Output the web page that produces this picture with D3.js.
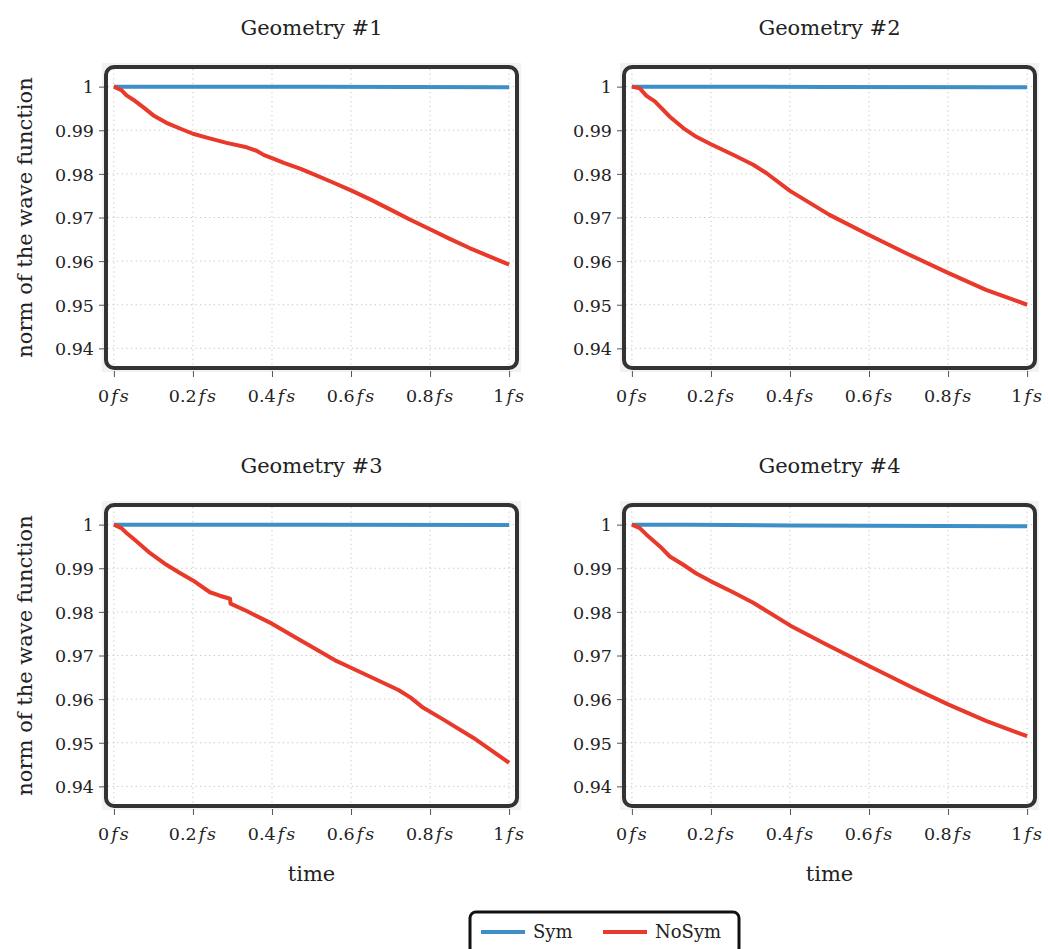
<!DOCTYPE html>
<html>
<head>
<meta charset="utf-8">
<script src="https://cdn.jsdelivr.net/npm/d3@7"></script>
<style>
  body { margin: 0; background: #fff; }
  svg { display: block; font-family: "DejaVu Serif", serif; }
</style>
</head>
<body>
<svg id="chart" width="1048" height="949"></svg>
<script>
// time axis, fs
const xTicks = [0, 0.2, 0.4, 0.6, 0.8, 1];
const yTicks = [0.94, 0.95, 0.96, 0.97, 0.98, 0.99, 1];
const titles = ["Geometry #1", "Geometry #2", "Geometry #3", "Geometry #4"];
const seriesNames = ["Sym", "NoSym"];

const geo1Time = [0, 0.019, 0.032, 0.049, 0.074, 0.1, 0.133, 0.167, 0.2, 0.235, 0.285, 0.336, 0.361, 0.38, 0.4, 0.43, 0.471, 0.5, 0.55, 0.6, 0.65, 0.7, 0.75, 0.8, 0.85, 0.9, 0.95, 1];
const geo1NoSym = [1, 0.9992, 0.998, 0.997, 0.9953, 0.9934, 0.9917, 0.9904, 0.9892, 0.9883, 0.9871, 0.9861, 0.9853, 0.9843, 0.9836, 0.9825, 0.9812, 0.9801, 0.9782, 0.9762, 0.9741, 0.9718, 0.9695, 0.9673, 0.9651, 0.963, 0.9611, 0.9592];
const geo1SymTime = [0, 0.5, 1];
const geo1Sym = [1, 0.99995, 0.99985];

const geo2Time = [0, 0.02, 0.037, 0.058, 0.071, 0.096, 0.13, 0.163, 0.2, 0.256, 0.307, 0.34, 0.4, 0.5, 0.6, 0.694, 0.8, 0.896, 1];
const geo2NoSym = [1, 0.9996, 0.9979, 0.9966, 0.9954, 0.9931, 0.9905, 0.9885, 0.9868, 0.9844, 0.9821, 0.9802, 0.9761, 0.9706, 0.966, 0.9618, 0.9573, 0.9534, 0.95];
const geo2SymTime = [0, 0.5, 1];
const geo2Sym = [1, 0.99993, 0.99985];

const geo3Time = [0, 0.019, 0.032, 0.057, 0.091, 0.133, 0.167, 0.2, 0.243, 0.268, 0.294, 0.295, 0.336, 0.4, 0.462, 0.505, 0.564, 0.6, 0.673, 0.72, 0.75, 0.783, 0.834, 0.91, 1];
const geo3NoSym = [1, 0.9992, 0.9981, 0.9962, 0.9935, 0.9908, 0.9889, 0.9872, 0.9845, 0.9837, 0.983, 0.9819, 0.9802, 0.9773, 0.974, 0.9718, 0.9687, 0.9672, 0.9641, 0.9621, 0.9604, 0.958, 0.9553, 0.9511, 0.9454];
const geo3SymTime = [0, 0.5, 1];
const geo3Sym = [1, 0.99996, 0.9999];

const geo4Time = [0, 0.02, 0.037, 0.071, 0.096, 0.13, 0.163, 0.2, 0.256, 0.307, 0.4, 0.492, 0.6, 0.711, 0.8, 0.896, 1];
const geo4NoSym = [1, 0.9992, 0.9977, 0.995, 0.9927, 0.9908, 0.9888, 0.987, 0.9845, 0.9821, 0.9769, 0.9725, 0.9676, 0.9626, 0.9588, 0.955, 0.9515];
const geo4SymTime = [0, 0.15, 0.4, 1];
const geo4Sym = [1, 0.99995, 0.9998, 0.99962];

const colors = { Sym: "#3d8fc8", NoSym: "#e9392a" };

const panels = [
    { col: 0, row: 0, symT: geo1SymTime, sym: geo1Sym, t: geo1Time, noSym: geo1NoSym },
    { col: 1, row: 0, symT: geo2SymTime, sym: geo2Sym, t: geo2Time, noSym: geo2NoSym },
    { col: 0, row: 1, symT: geo3SymTime, sym: geo3Sym, t: geo3Time, noSym: geo3NoSym },
    { col: 1, row: 1, symT: geo4SymTime, sym: geo4Sym, t: geo4Time, noSym: geo4NoSym }
];

const svg = d3.select("#chart");
const W = 411, H = 301;
const lefts = [106, 624];
const tops = [67, 505];

function drawPanel(p, i) {
    const L = lefts[p.col], T = tops[p.row];
    const g = svg.append("g").attr("transform", `translate(${L},${T})`);

    const x = d3.scaleLinear().domain([-0.02, 1.02]).range([0, W]);
    const y = d3.scaleLinear().domain([0.9355, 1.0045]).range([H, 0]);

    // faint backdrop + frame
    g.append("rect")
        .attr("x", -4).attr("y", -4)
        .attr("width", W + 8).attr("height", H + 8)
        .attr("fill", "#f2f2f2");
    g.append("rect")
        .attr("width", W).attr("height", H)
        .attr("rx", 8)
        .attr("fill", "#fff");

    // dotted grid
    g.append("g").selectAll("line").data(xTicks).join("line")
        .attr("x1", d => x(d)).attr("x2", d => x(d))
        .attr("y1", 2).attr("y2", H - 2)
        .attr("stroke", "#c4c4c4").attr("stroke-width", 1)
        .attr("stroke-dasharray", "1.2,3.4");
    g.append("g").selectAll("line").data(yTicks).join("line")
        .attr("x1", 2).attr("x2", W - 2)
        .attr("y1", d => y(d)).attr("y2", d => y(d))
        .attr("stroke", "#c4c4c4").attr("stroke-width", 1)
        .attr("stroke-dasharray", "1.2,3.4");

    const line = d3.line().x(d => x(d[0])).y(d => y(d[1]));

    g.append("path")
        .datum(p.symT.map((t, k) => [t, p.sym[k]]))
        .attr("d", line)
        .attr("fill", "none")
        .attr("stroke", colors.Sym)
        .attr("stroke-width", 4);

    g.append("path")
        .datum(p.t.map((t, k) => [t, p.noSym[k]]))
        .attr("d", line)
        .attr("fill", "none")
        .attr("stroke", colors.NoSym)
        .attr("stroke-width", 4)
        .attr("stroke-linejoin", "round");

    g.append("rect")
        .attr("width", W).attr("height", H)
        .attr("rx", 8)
        .attr("fill", "none")
        .attr("stroke", "#333")
        .attr("stroke-width", 4);

    // y axis
    const yAxis = g.append("g")
        .attr("transform", "translate(-2,0)")
        .call(d3.axisLeft(y).tickValues(yTicks).tickSize(5).tickPadding(5).tickFormat(d3.format("~g")));
    yAxis.select(".domain").remove();
    yAxis.selectAll(".tick line").attr("stroke", "#555");
    yAxis.selectAll("text")
        .attr("font-family", "DejaVu Serif")
        .attr("font-size", 17.5)
        .attr("fill", "#222")
        .attr("dy", "0.36em");

    // x axis
    const xAxis = g.append("g")
        .attr("transform", `translate(0,${H + 3})`)
        .call(d3.axisBottom(x).tickValues(xTicks).tickSize(6).tickFormat(d3.format("~g")));
    xAxis.select(".domain").remove();
    xAxis.selectAll(".tick line").attr("stroke", "#555");
    xAxis.selectAll("text")
        .attr("font-family", "DejaVu Serif")
        .attr("font-size", 17.5)
        .attr("fill", "#222")
        .attr("y", 31)
        .attr("dy", null)
        .each(function (d) {
            const t = d3.select(this);
            t.text(null);
            t.append("tspan").text(d3.format("~g")(d));
            t.append("tspan").attr("font-style", "italic").attr("dx", 2)
                .attr("letter-spacing", 2).text("fs");
        });

    // title
    svg.append("text")
        .attr("x", L + W / 2).attr("y", T - 32)
        .attr("text-anchor", "middle")
        .attr("font-size", 21)
        .attr("fill", "#222")
        .text(titles[i]);

    if (p.col === 0) {
        svg.append("text")
            .attr("transform", `translate(${L - 74},${T + H / 2}) rotate(-90)`)
            .attr("text-anchor", "middle")
            .attr("font-size", 21)
            .attr("fill", "#222")
            .text("norm of the wave function");
    }
    if (p.row === 1) {
        svg.append("text")
            .attr("x", L + W / 2).attr("y", T + H + 75)
            .attr("text-anchor", "middle")
            .attr("font-size", 21)
            .attr("fill", "#222")
            .text("time");
    }
}

panels.forEach(drawPanel);

// legend
const legend = svg.append("g").attr("transform", "translate(470,912)");
legend.append("rect")
    .attr("width", 269).attr("height", 42)
    .attr("rx", 6)
    .attr("fill", "#fff")
    .attr("stroke", "#111")
    .attr("stroke-width", 3);
const legendX = [11, 133];
seriesNames.forEach((name, k) => {
    legend.append("line")
        .attr("x1", legendX[k]).attr("x2", legendX[k] + 44)
        .attr("y1", 20).attr("y2", 20)
        .attr("stroke", colors[name])
        .attr("stroke-width", 4);
    legend.append("text")
        .attr("x", legendX[k] + 52).attr("y", 26)
        .attr("font-size", 18)
        .attr("fill", "#222")
        .text(name);
});
</script>
</body>
</html>
